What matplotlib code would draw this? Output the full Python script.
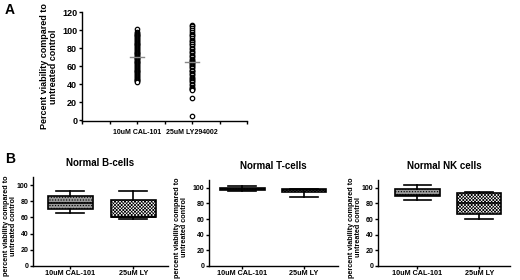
import numpy as np
import matplotlib.pyplot as plt

# panel A: individual patient values (percent viability)
cal_vals = [101, 98, 97, 96, 95, 94, 93, 92, 91, 90, 89, 88, 87, 86, 85, 84, 83, 82,
            81, 80, 79, 78, 77, 76, 75, 74, 73, 72, 71, 70, 69, 69, 68, 67, 66, 65,
            64, 63, 62, 61, 60, 59, 58, 57, 56, 55, 54, 53, 52, 51, 50, 49, 48, 47,
            46, 45, 44, 43, 42]
ly_vals = [106, 104, 102, 100, 98, 96, 95, 93, 91, 89, 88, 87, 85, 84, 82, 80, 79, 77,
           76, 74, 72, 71, 70, 68, 67, 66, 65, 64, 63, 62, 61, 60, 59, 58, 56, 55, 54,
           52, 51, 50, 48, 47, 46, 44, 43, 42, 40, 39, 37, 36, 35, 34, 33, 25, 5]
a_labels = ["10uM CAL-101", "25uM LY294002"]

# panel B: box stats per cell type (whislo, q1, med, q3, whishi)
b_titles = ["Normal B-cells", "Normal T-cells", "Normal NK cells"]
b_labels = ["10uM CAL-101", "25uM LY"]
cal_stats = [(66, 71, 78, 86, 93), (96, 97, 98.5, 100, 102), (85, 89, 91, 98, 104)]
ly_stats = [(58, 60, 61, 81, 93), (88, 95, 97, 99, 99), (60, 67, 80, 93, 95)]

plt.rcParams['font.family'] = ['Liberation Sans', 'DejaVu Sans']
plt.rcParams['font.weight'] = 'bold'
plt.rcParams['hatch.linewidth'] = 0.5

fig = plt.figure(figsize=(5.2, 2.8), dpi=100)
W, H = 520, 280


def px_axes(x0, y0, x1, y1):
    return fig.add_axes([x0 / W, 1 - y1 / H, (x1 - x0) / W, (y1 - y0) / H])


def style(ax, fs):
    for s in ['top', 'right']:
        ax.spines[s].set_visible(False)
    for s in ['left', 'bottom']:
        ax.spines[s].set_linewidth(1.0)
    ax.tick_params(axis='both', labelsize=fs, width=1.0, length=2.5, pad=1)


# ---- panel A
axA = px_axes(82, 12, 247, 121)
for pos, vals in zip([2, 4], [cal_vals, ly_vals]):
    axA.plot([pos] * len(vals), vals, 'o', ms=3.2, mfc='white', mec='black', mew=0.9)
    m = np.median(vals)
    axA.plot([pos - 0.24, pos + 0.24], [m, m], color='#888888', lw=1.0)
axA.set_xlim(0, 6)
axA.set_ylim(-1, 120)
axA.set_yticks([0, 20, 40, 60, 80, 100, 120])
axA.set_xticks([0, 1, 2, 3, 4, 5, 6])
axA.set_xticklabels(['', '', a_labels[0], '', a_labels[1], '', ''])
style(axA, 6)
axA.tick_params(axis='x', labelsize=5, pad=3)
axA.tick_params(axis='y', labelsize=6.5)
axA.set_ylabel("Percent viability compared to\nuntreated control", fontsize=6.5,
               fontweight='bold', linespacing=1.0, labelpad=3)
fig.text(5 / W, 1 - 14 / H, "A", fontsize=10, fontweight='bold')

# ---- panel B
boxes = [(33, 177, 168, 266), (209, 180, 338, 266), (378, 180, 510, 266)]
xlims = [(0.41, 2.55), (0.46, 2.55), (0.36, 2.5)]
label_x = [17, 188, 362]
for i in range(3):
    x0, y0, x1, y1 = boxes[i]
    ax = px_axes(x0, y0, x1, y1)
    stats = []
    for s, lab in zip([cal_stats[i], ly_stats[i]], b_labels):
        stats.append(dict(whislo=s[0], q1=s[1], med=s[2], q3=s[3], whishi=s[4], label=lab))
    bp = ax.bxp(stats, positions=[1, 2], widths=0.72, showfliers=False, patch_artist=True,
                boxprops=dict(lw=1.2), medianprops=dict(color='black', lw=1.2),
                whiskerprops=dict(lw=1.2), capprops=dict(lw=1.2), capwidths=0.45)
    bp['boxes'][0].set_facecolor('#999999')
    bp['boxes'][0].set_hatch('......')
    bp['boxes'][1].set_facecolor('white')
    bp['boxes'][1].set_hatch('x' * 10)
    ax.set_xlim(*xlims[i])
    ax.set_ylim(0, 110)
    ax.set_yticks([0, 20, 40, 60, 80, 100])
    style(ax, 5)
    ax.tick_params(axis='x', labelsize=5.2, pad=1, length=2)
    ax.set_ylabel("percent viability compared to\nuntreated control", fontsize=5.2,
                  fontweight='bold', linespacing=1.0)
    ax.yaxis.set_label_coords((label_x[i] - x0) / (x1 - x0), 0.45)
    ax.set_title(b_titles[i], fontsize=7, fontweight='bold', pad=8)
fig.text(5 / W, 1 - 163 / H, "B", fontsize=10, fontweight='bold')

fig.savefig("out.png", dpi=100)
